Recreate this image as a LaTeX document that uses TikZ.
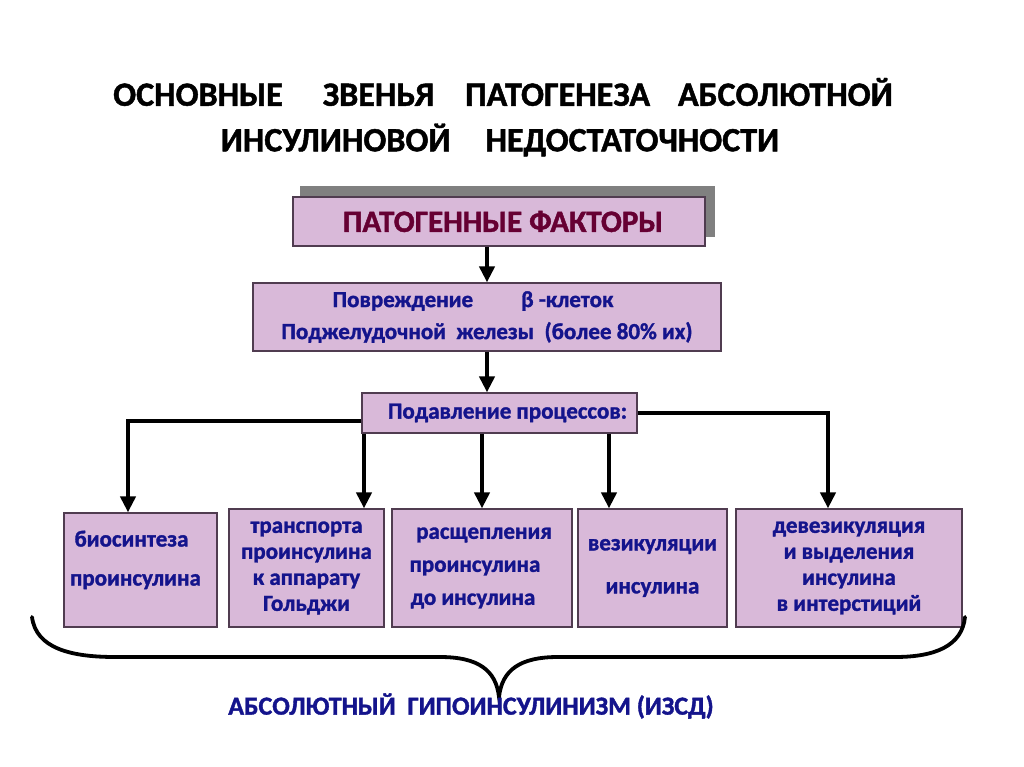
\documentclass[tikz,border=0pt]{standalone}
\usepackage{fontspec}
\setmainfont{Carlito}[BoldFeatures={FakeBold=1.4}]
\usetikzlibrary{arrows.meta,calc}
\definecolor{boxfill}{RGB}{217,185,217}
\definecolor{boxline}{RGB}{80,60,80}
\definecolor{navy}{RGB}{20,20,140}
\definecolor{maroon}{RGB}{102,0,51}
\definecolor{shadowgray}{RGB}{128,128,128}
\tikzset{
  box/.style={draw=boxline, fill=boxfill, line width=1.2pt, inner sep=0pt, align=center, text=navy, font=\bfseries\fontsize{23}{26}\selectfont},
  arr/.style={line width=4pt, -{Triangle[width=15pt,length=16pt]}},
  title/.style={font=\bfseries\fontsize{34}{40}\selectfont, text=black}
}
\begin{document}
\begin{tikzpicture}[x=1pt,y=-1pt]
\useasboundingbox (0,0) rectangle (1024,767);
\fill[white] (0,0) rectangle (1024,767);
% title
\node[title] (t1) at (503,92) {ОСНОВНЫЕ\hspace{40pt}ЗВЕНЬЯ\hspace{31pt}ПАТОГЕНЕЗА\hspace{28pt}АБСОЛЮТНОЙ};
\node[title] (t2) at (500,140) {ИНСУЛИНОВОЙ\hspace{35pt}НЕДОСТАТОЧНОСТИ};
% pathogenic factors
\fill[shadowgray] (300,186) rectangle (715,237);
\node[box, minimum width=412pt, minimum height=49pt, text=maroon, font=\bfseries\fontsize{31}{34}\selectfont] (pf) at (499,221.5) {\hspace{8pt}ПАТОГЕННЫЕ ФАКТОРЫ};
% damage
\node[box, minimum width=468pt, minimum height=68pt] (dmg) at (487,317)
  {\hspace{-28pt}Повреждение\hspace{48pt}β -клеток\\[6pt]Поджелудочной\ \ железы\ \ (более 80\% их)\hspace{58pt}};
% processes
\node[box, minimum width=275pt, minimum height=40pt] (proc) at (499.5,413) {\hspace{16pt}Подавление процессов:};
% bottom boxes
\node[box, minimum width=153pt, minimum height=114pt] (b1) at (140.5,570)
  {\mbox{}\\[-14pt]\hspace{-18pt}биосинтеза\\[13pt]\hspace{-10pt}проинсулина\\[-6pt]\mbox{}};
\node[box, minimum width=155pt, minimum height=118pt] (b2) at (306.5,568)
  {транспорта\\проинсулина\\к аппарату\\Гольджи};
\node[box, minimum width=180pt, minimum height=118pt] (b3) at (482,568)
  {\hspace{4pt}расщепления\\[7pt]\hspace{-14pt}проинсулина\\[7pt]\hspace{-18pt}до инсулина};
\node[box, minimum width=149pt, minimum height=118pt] (b4) at (652.5,568)
  {везикуляции\\[17pt]инсулина};
\node[box, minimum width=226pt, minimum height=118pt] (b5) at (849,568)
  {девезикуляция\\и выделения\\инсулина\\в интерстиций};
% coordinates for arrow positions
\coordinate (x1) at (128,0);
\coordinate (x2) at (364,0);
\coordinate (x4) at (609,0);
\coordinate (x5) at (828,0);
% connectors
\draw[arr] (dmg.north |- pf.south) -- (dmg.north);
\draw[arr] (dmg.south) -- (dmg.south |- proc.north);
\draw[arr] ([yshift=-8pt]proc.west) -| (x1 |- b1.north);
\draw[arr] (x2 |- proc.south) -- (x2 |- b2.north);
\draw[arr] (b3.north |- proc.south) -- (b3.north);
\draw[arr] (x4 |- proc.south) -- (x4 |- b4.north);
\draw[arr] (proc.east) -| (x5 |- b5.north);
% brace
\draw[line width=3.8pt, line cap=round]
  (32,617) .. controls (36,648) and (70,657) .. (115,657) -- (440,657)
  .. controls (478,657) and (496,670) .. (499,697)
  .. controls (502,670) and (520,657) .. (558,657) -- (895,657)
  .. controls (935,657) and (962,646) .. (965,617);
\node[font=\bfseries\fontsize{26}{30}\selectfont, text=navy] (res) at (471,706) {АБСОЛЮТНЫЙ\ \ ГИПОИНСУЛИНИЗМ (ИЗСД)};
\end{tikzpicture}
\end{document}
